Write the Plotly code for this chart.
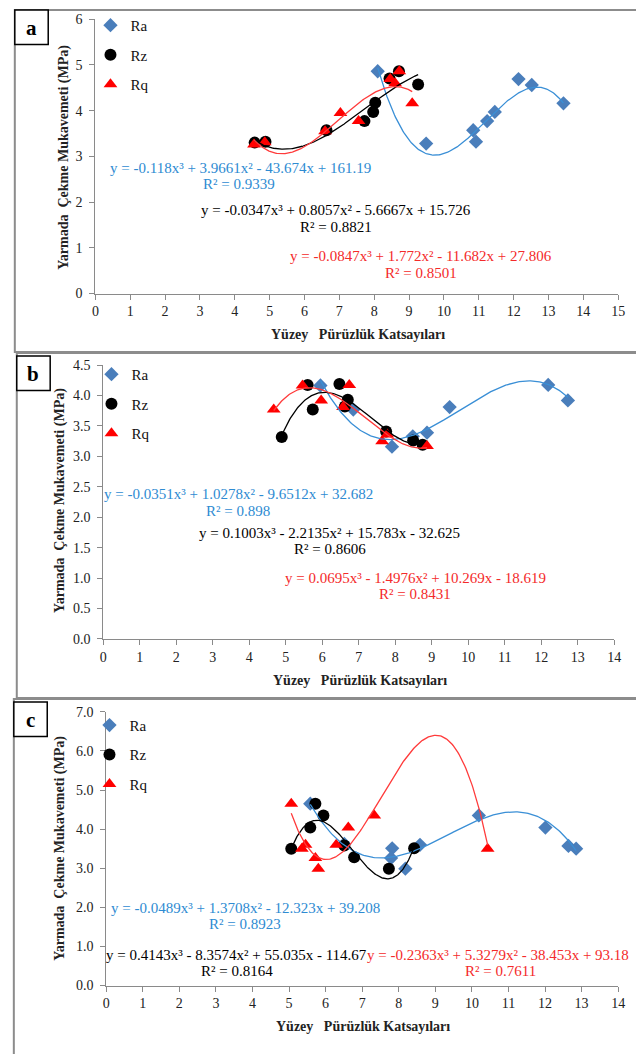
import numpy as np
import plotly.graph_objects as go

W, H = 636, 1054
SERIF = "'Liberation Serif', 'Times New Roman', serif"

BLUE_MK, BLUE_LN, BLUE_TX = "#4A7EBB", "#3A8FD6", "#2E8BD2"
BLACK = "#000000"
RED_MK, RED_LN, RED_TX = "#FF0000", "#FF3B3B", "#F42A2A"

# ---------------- panel a ----------------
a_ra_x = [8.10, 9.49, 10.84, 10.92, 11.24, 11.46, 12.14, 12.52, 13.43]
a_ra_y = [4.86, 3.28, 3.57, 3.32, 3.77, 3.97, 4.69, 4.56, 4.16]
a_rz_x = [4.57, 4.88, 6.63, 7.72, 7.97, 8.03, 8.44, 8.71, 9.26]
a_rz_y = [3.30, 3.32, 3.57, 3.77, 3.97, 4.17, 4.70, 4.86, 4.57]
a_rq_x = [4.55, 4.86, 6.59, 7.03, 7.55, 8.46, 8.60, 8.72, 9.09]
a_rq_y = [3.26, 3.31, 3.55, 3.95, 3.77, 4.69, 4.60, 4.86, 4.16]
a_fit_ra, a_r2_ra = [-0.118, 3.9661, -43.674, 161.19], 0.9339
a_fit_rz, a_r2_rz = [-0.0347, 0.8057, -5.6667, 15.726], 0.8821
a_fit_rq, a_r2_rq = [-0.0847, 1.772, -11.682, 27.806], 0.8501

# ---------------- panel b ----------------
b_ra_x = [5.95, 6.85, 7.91, 8.48, 8.87, 9.49, 12.19, 12.73]
b_ra_y = [4.165, 3.77, 3.16, 3.33, 3.39, 3.81, 4.175, 3.92]
b_rz_x = [4.89, 5.60, 5.74, 6.47, 6.62, 6.70, 7.75, 8.49, 8.75]
b_rz_y = [3.32, 4.175, 3.77, 4.19, 3.82, 3.93, 3.41, 3.26, 3.19]
b_rq_x = [4.67, 5.46, 5.97, 6.57, 6.74, 7.64, 7.78, 8.87]
b_rq_y = [3.77, 4.165, 3.92, 3.81, 4.175, 3.25, 3.36, 3.17]
b_fit_ra, b_r2_ra = [-0.0351, 1.0278, -9.6512, 32.682], 0.898
b_fit_rz, b_r2_rz = [0.1003, -2.2135, 15.783, -32.625], 0.8606
b_fit_rq, b_r2_rq = [0.0695, -1.4976, 10.269, -18.619], 0.8431

# ---------------- panel c ----------------
c_ra_x = [5.58, 6.51, 7.82, 7.79, 8.18, 8.58, 10.19, 12.01, 12.64, 12.85]
c_ra_y = [4.65, 3.62, 3.51, 3.26, 2.99, 3.60, 4.35, 4.04, 3.57, 3.50]
c_rz_x = [5.06, 5.58, 5.72, 5.94, 6.51, 6.78, 7.73, 8.42]
c_rz_y = [3.50, 4.04, 4.65, 4.35, 3.58, 3.28, 2.99, 3.51]
c_rq_x = [5.06, 5.35, 5.45, 5.72, 5.80, 6.29, 6.62, 7.33, 10.43]
c_rq_y = [4.65, 3.50, 3.60, 3.26, 2.99, 3.60, 4.04, 4.35, 3.50]
c_fit_ra, c_r2_ra = [-0.0489, 1.3708, -12.323, 39.208], 0.8923
c_fit_rz, c_r2_rz = [0.4143, -8.3574, 55.035, -114.67], 0.8164
c_fit_rq, c_r2_rq = [-0.2363, 5.3279, -38.453, 93.18], 0.7611

x_title = "Yüzey\u00a0\u00a0 Pürüzlük Katsayıları"
y_title = "Yarmada\u00a0 Çekme Mukavemeti (MPa)"


def px(x):
    return x / W


def py(y):
    return 1 - y / H


def equation(c):
    pw = ["x³", "x²", "x", ""]
    s = "y = " + ("-" if c[0] < 0 else "") + f"{abs(c[0])}{pw[0]}"
    for v, p in zip(c[1:], pw[1:]):
        s += (" - " if v < 0 else " + ") + f"{abs(v)}{p}"
    return s


# per-panel layout: axis pixel frame, ranges, ticks, labels
panels = [
    dict(tag="a", sfx="", leg="legend",
         x0=93, x1=625, ytop=12.3, ybot=290.7, xr=15, yr=6, dy=1, fmt="d",
         series=[("Ra", a_ra_x, a_ra_y, a_fit_ra, a_r2_ra),
                 ("Rz", a_rz_x, a_rz_y, a_fit_rz, a_r2_rz),
                 ("Rq", a_rq_x, a_rq_y, a_fit_rq, a_r2_rq)],
         eq_pos=[(4.16, 2.745, 4.11, 2.386), (6.91, 1.825, 6.91, 1.466),
                 (9.35, 0.827, 9.33, 0.46)],
         frame=(11, 3, 700, 350), box=(11, 3, 45, 38),
         ytitle=(61, 152), xtitle=(360, 332), legxy=(88, 2)),
    dict(tag="b", sfx="2", leg="legend2",
         x0=101, x1=621, ytop=363.3, ybot=641, xr=14, yr=4.5, dy=0.5, fmt=".1f",
         series=[("Ra", b_ra_x, b_ra_y, b_fit_ra, b_r2_ra),
                 ("Rz", b_rz_x, b_rz_y, b_fit_rz, b_r2_rz),
                 ("Rq", b_rq_x, b_rq_y, b_fit_rq, b_r2_rq)],
         eq_pos=[(3.71, 2.377, 3.69, 2.107), (6.20, 1.739, 6.21, 1.47),
                 (8.56, 1.00, 8.54, 0.735)],
         frame=(13, 351, 700, 701), box=(13, 354, 47, 389),
         ytitle=(57, 501), xtitle=(362, 683), legxy=(89, 356)),
    dict(tag="c", sfx="3", leg="legend3",
         x0=104, x1=625, ytop=715, ybot=992.7, xr=14, yr=7, dy=1, fmt=".1f",
         series=[("Ra", c_ra_x, c_ra_y, c_fit_ra, c_r2_ra),
                 ("Rz", c_rz_x, c_rz_y, c_fit_rz, c_r2_rz),
                 ("Rq", c_rq_x, c_rq_y, c_fit_rq, c_r2_rq)],
         eq_pos=[(3.80, 1.985, 3.79, 1.563), (3.56, 0.782, 3.57, 0.362),
                 (10.70, 0.782, 10.77, 0.362)],
         frame=(10, 702, 700, 1070), box=(10, 705, 44, 740),
         ytitle=(57, 854), xtitle=(365, 1034), legxy=(87, 712)),
]

styles = {
    "Ra": dict(mk=dict(symbol="diamond", size=11, color=BLUE_MK), ln=BLUE_LN, tx=BLUE_TX),
    "Rz": dict(mk=dict(symbol="circle", size=12, color=BLACK), ln=BLACK, tx=BLACK),
    "Rq": dict(mk=dict(symbol="triangle-up", size=12, color=RED_MK), ln=RED_LN, tx=RED_TX),
}

fig = go.Figure()
layout = dict(width=W, height=H, margin=dict(l=0, r=0, t=0, b=0),
              paper_bgcolor="white", plot_bgcolor="white", showlegend=True,
              font=dict(family=SERIF, size=14, color="#222"))
shapes, annotations = [], []

axis_common = dict(showline=True, linecolor="#8a8a8a", linewidth=1,
                   ticks="outside", ticklen=5, tickcolor="#8a8a8a",
                   showgrid=False, zeroline=False,
                   tickfont=dict(family=SERIF, size=14, color="#222"))

for p in panels:
    xa, ya = "x" + p["sfx"], "y" + p["sfx"]
    # scatter markers first, trend curves on top
    for name, xs, ys, fit, r2 in p["series"]:
        st = styles[name]
        fig.add_trace(go.Scatter(
            x=xs, y=ys, mode="markers", name=name, marker=st["mk"],
            xaxis=xa, yaxis=ya, legend=p["leg"], legendgroup=p["tag"] + name,
            cliponaxis=False))
    for (name, xs, ys, fit, r2), (ex, ey, rx, ry) in zip(p["series"], p["eq_pos"]):
        st = styles[name]
        xx = np.linspace(min(xs), max(xs), 200)
        fig.add_trace(go.Scatter(
            x=xx, y=np.polyval(fit, xx), mode="lines", showlegend=False,
            line=dict(color=st["ln"], width=1.3), hoverinfo="skip",
            xaxis=xa, yaxis=ya, legend=p["leg"], legendgroup=p["tag"] + name))
        annotations.append(dict(x=ex, y=ey, xref=xa, yref=ya, text=equation(fit),
                                showarrow=False, xanchor="center", yanchor="middle",
                                font=dict(family=SERIF, size=15, color=st["tx"])))
        annotations.append(dict(x=rx, y=ry, xref=xa, yref=ya,
                                text=f"R² = {r2}",
                                showarrow=False, xanchor="center", yanchor="middle",
                                font=dict(family=SERIF, size=15, color=st["tx"])))

    layout["xaxis" + p["sfx"]] = dict(
        axis_common, domain=[px(p["x0"]), px(p["x1"])], range=[0, p["xr"]],
        dtick=1, tick0=0, anchor=ya)
    layout["yaxis" + p["sfx"]] = dict(
        axis_common, domain=[py(p["ybot"]), py(p["ytop"])], range=[0, p["yr"]],
        dtick=p["dy"], tick0=0, tickformat=p["fmt"], anchor=xa,
        ticklabelstandoff=4)

    lx, ly = p["legxy"]
    layout[p["leg"]] = dict(x=px(lx), y=py(ly), xanchor="left", yanchor="top",
                            bgcolor="rgba(0,0,0,0)", tracegroupgap=7,
                            font=dict(family=SERIF, size=15, color="#111"))

    fx0, fy0, fx1, fy1 = p["frame"]
    shapes.append(dict(type="rect", xref="paper", yref="paper",
                       x0=px(fx0), x1=px(fx1), y0=py(fy1), y1=py(fy0),
                       line=dict(color="#8c8c8c", width=2), layer="below"))
    bx0, by0, bx1, by1 = p["box"]
    shapes.append(dict(type="rect", xref="paper", yref="paper",
                       x0=px(bx0), x1=px(bx1), y0=py(by1), y1=py(by0),
                       line=dict(color="#000", width=1.5), fillcolor="white"))
    annotations.append(dict(x=px((bx0 + bx1) / 2), y=py((by0 + by1) / 2 + 1),
                            xref="paper", yref="paper", text=f"<b>{p['tag']}</b>",
                            showarrow=False, xanchor="center", yanchor="middle",
                            font=dict(family=SERIF, size=21, color="#000")))
    tx, ty = p["ytitle"]
    annotations.append(dict(x=px(tx), y=py(ty), xref="paper", yref="paper",
                            text=f"<b>{y_title}</b>", textangle=-90,
                            showarrow=False, xanchor="center", yanchor="middle",
                            font=dict(family=SERIF, size=14, color="#222")))
    tx, ty = p["xtitle"]
    annotations.append(dict(x=px(tx), y=py(ty), xref="paper", yref="paper",
                            text=f"<b>{x_title}</b>",
                            showarrow=False, xanchor="center", yanchor="middle",
                            font=dict(family=SERIF, size=14, color="#222")))

layout["shapes"] = shapes
layout["annotations"] = annotations
fig.update_layout(**layout)
fig.write_html("out.html")
